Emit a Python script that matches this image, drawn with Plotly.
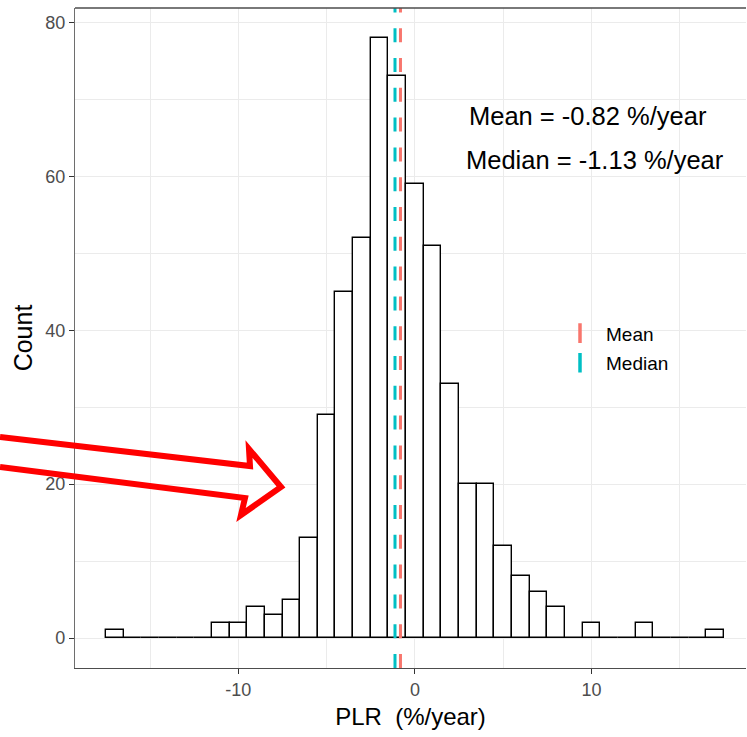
import plotly.graph_objects as go

# Histogram of performance loss rate (PLR), 1 %/year bins centred on integers
bin_centers = list(range(-17, 18))
counts = [1, 0, 0, 0, 0, 0, 2, 2, 4, 3, 5, 13, 29, 45, 52, 78, 73, 59,
          51, 33, 20, 20, 12, 8, 6, 4, 0, 2, 0, 0, 2, 0, 0, 0, 1]
bin_width = 1.0

MEAN_PLR = -0.82
MEDIAN_PLR = -1.13

x_ticks = [-10, 0, 10]
y_ticks = [0, 20, 40, 60, 80]

MEAN_COLOR = "#F8766D"
MEDIAN_COLOR = "#00BFC4"
FONT = "Liberation Sans, Arial, Helvetica, sans-serif"

W, H = 747, 737
M_L, M_R, M_T, M_B = 75, 1, 8, 69
plot_w = W - M_L - M_R
plot_h = H - M_T - M_B


def to_paper(px, py):
    """Figure pixel position -> paper coordinates of the plotting area."""
    return (px - M_L) / plot_w, (H - M_B - py) / plot_h


fig = go.Figure()

fig.add_trace(go.Bar(
    x=bin_centers, y=counts, width=bin_width,
    marker=dict(color="white", line=dict(color="black", width=1.4)),
    showlegend=False, hoverinfo="x+y",
))

# vertical reference lines for mean and median
for val, col in [(MEAN_PLR, MEAN_COLOR), (MEDIAN_PLR, MEDIAN_COLOR)]:
    fig.add_shape(type="line", xref="x", yref="paper", x0=val, x1=val, y0=0, y1=1,
                  line=dict(color=col, width=3, dash="14px,15.8px"), layer="above")

# legend keys (vertical ticks, like the reference lines)
for name, col in [("Mean", MEAN_COLOR), ("Median", MEDIAN_COLOR)]:
    fig.add_trace(go.Scatter(
        x=[None], y=[None], mode="markers", name=name, legendgroup=name,
        marker=dict(symbol="line-ns", size=14, color=col,
                    line=dict(color=col, width=3.5)),
    ))

# white panel behind the legend
lx0, ly0 = to_paper(555, 392)
lx1, ly1 = to_paper(683, 285)
fig.add_shape(type="rect", xref="paper", yref="paper", x0=lx0, x1=lx1, y0=ly0, y1=ly1,
              fillcolor="white", line=dict(width=0), layer="between")

fig.add_annotation(x=9.8, y=67.8, xref="x", yref="y",
                   text=f"Mean = {MEAN_PLR:.2f} %/year", showarrow=False,
                   font=dict(family=FONT, size=25.5, color="black"),
                   xanchor="center", yanchor="middle")
fig.add_annotation(x=10.2, y=62.1, xref="x", yref="y",
                   text=f"Median = {MEDIAN_PLR:.2f} %/year", showarrow=False,
                   font=dict(family=FONT, size=25.5, color="black"),
                   xanchor="center", yanchor="middle")

# hollow red arrow pointing at the left tail (figure pixel coordinates)
arrow_px = [(0, 437), (250, 466), (249, 449), (281, 487),
            (241, 515), (245, 498), (0, 467)]
pts = [to_paper(px, py) for px, py in arrow_px]
path = "M " + " L ".join(f"{x:.5f},{y:.5f}" for x, y in pts)
fig.add_shape(type="path", xref="paper", yref="paper", path=path,
              line=dict(color="#FF0000", width=6), fillcolor="rgba(0,0,0,0)",
              layer="above")

# top edge of the panel
fig.add_shape(type="line", xref="paper", yref="paper", x0=0, x1=1, y0=1, y1=1,
              line=dict(color="#4D4D4D", width=1.4), layer="above")

grid_col = "#EBEBEB"
fig.update_xaxes(
    range=[-19.25, -19.25 + plot_w / 17.66],
    tickvals=x_ticks, ticktext=[str(v) for v in x_ticks],
    ticks="outside", ticklen=5, tickwidth=1.1, tickcolor="#333333",
    tickfont=dict(family=FONT, size=18, color="#4D4D4D"),
    showgrid=True, gridcolor=grid_col, gridwidth=1.3,
    minor=dict(dtick=5, tick0=0, showgrid=True, gridcolor=grid_col, gridwidth=1, ticks=""),
    showline=True, linecolor="#4D4D4D", linewidth=1.4, mirror=False,
    zeroline=False,
    title=dict(text="PLR\u00a0 (%/year)", standoff=9,
               font=dict(family=FONT, size=24, color="black")),
)
fig.update_yaxes(
    range=[-3.9, 81.9],
    tickvals=y_ticks, ticktext=[str(v) for v in y_ticks],
    ticks="outside", ticklen=5, tickwidth=1.1, tickcolor="#333333",
    tickfont=dict(family=FONT, size=18, color="#4D4D4D"),
    showgrid=True, gridcolor=grid_col, gridwidth=1.3,
    minor=dict(dtick=10, tick0=0, showgrid=True, gridcolor=grid_col, gridwidth=1, ticks=""),
    showline=True, linecolor="#6E6E6E", linewidth=1.4, mirror=False,
    zeroline=False,
    title=dict(text="Count", standoff=5,
               font=dict(family=FONT, size=25, color="black")),
)

fig.update_layout(
    width=W, height=H,
    margin=dict(l=M_L, r=M_R, t=M_T, b=M_B, autoexpand=False),
    plot_bgcolor="white", paper_bgcolor="white",
    bargap=0,
    legend=dict(x=to_paper(554, 0)[0], y=0.536, xanchor="left", yanchor="top",
                bgcolor="rgba(0,0,0,0)", borderwidth=0,
                font=dict(family=FONT, size=19, color="black"),
                itemwidth=42, tracegroupgap=2),
)

fig.write_html("out.html")
